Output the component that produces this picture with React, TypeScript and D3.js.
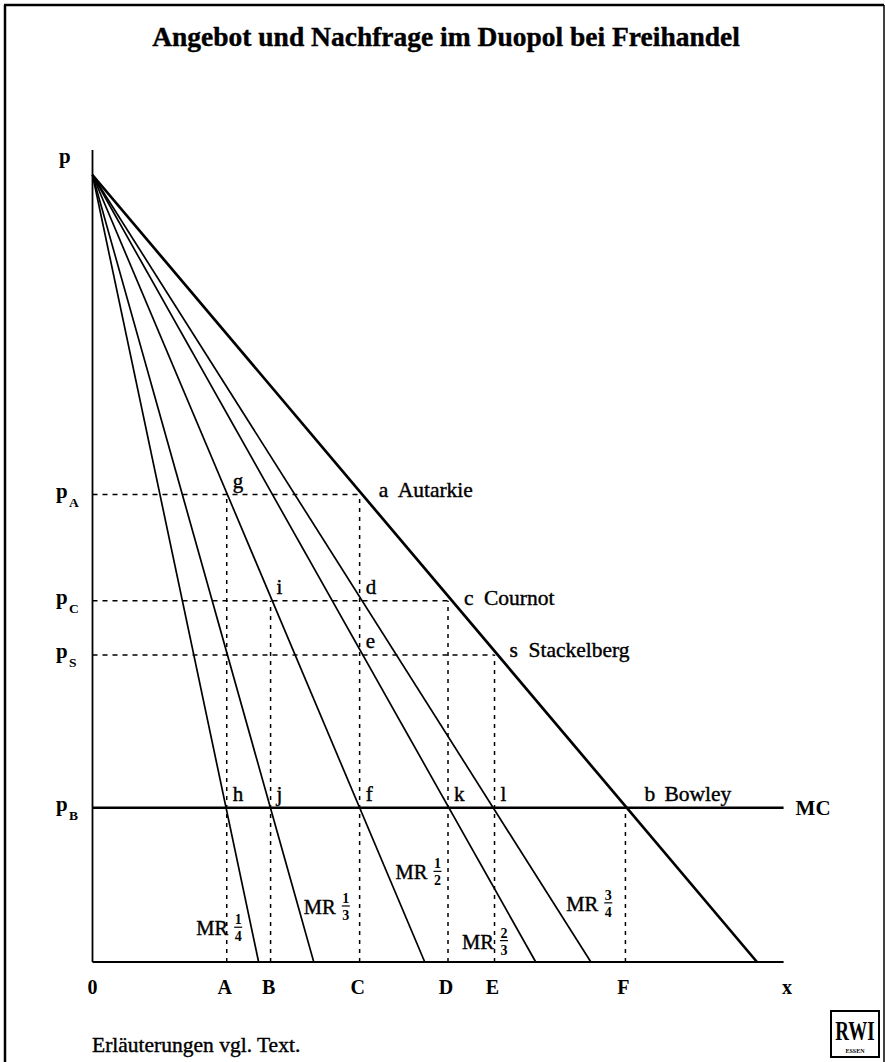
import React from 'react';
import * as d3 from 'd3';

// quantities (share of the demand intercept) and prices (share of the price intercept)
const quantityNames = ['A', 'B', 'C', 'D', 'E', 'F'];
const quantityValues = [0.202, 0.268, 0.402, 0.535, 0.605, 0.802];

const priceNames = ['A', 'C', 'S', 'B'];
const priceValues = [0.594, 0.459, 0.39, 0.196];

// marginal revenue lines: x-intercept as share of the demand intercept
const mrShares = [0.25, 0.333, 0.5, 0.667, 0.75];
const mrNumerators = ['1', '1', '1', '2', '3'];
const mrDenominators = ['4', '3', '2', '3', '4'];
// where each MR label sits (quantity, price)
const mrLabelQ = [0.156, 0.318, 0.456, 0.556, 0.713];
const mrLabelP = [0.034, 0.061, 0.105, 0.017, 0.065];

const mcEnd = 1.04;

// dashed guides: horizontal ones run out to a quantity, vertical ones up to a price
const hGuides = [
  { p: 'A', q: 'C' },
  { p: 'C', q: 'D' },
  { p: 'S', q: 'E' },
];
const vGuides = [
  { q: 'A', p: 'A' },
  { q: 'B', p: 'C' },
  { q: 'C', p: 'A' },
  { q: 'D', p: 'C' },
  { q: 'E', p: 'S' },
  { q: 'F', p: 'B' },
];

const smallPoints = [
  { t: 'g', q: 'A', p: 'A' },
  { t: 'i', q: 'B', p: 'C' },
  { t: 'd', q: 'C', p: 'C' },
  { t: 'e', q: 'C', p: 'S' },
  { t: 'h', q: 'A', p: 'B' },
  { t: 'j', q: 'B', p: 'B' },
  { t: 'f', q: 'C', p: 'B' },
  { t: 'k', q: 'D', p: 'B' },
  { t: 'l', q: 'E', p: 'B' },
];

const namedPoints = [
  { t: 'a', word: 'Autarkie', q: 'C', p: 'A', dx: 19, wx: 38, dy: 2 },
  { t: 'c', word: 'Cournot', q: 'D', p: 'C', dx: 16, wx: 36, dy: 4 },
  { t: 's', word: 'Stackelberg', q: 'E', p: 'S', dx: 15, wx: 34, dy: 2 },
  { t: 'b', word: 'Bowley', q: 'F', p: 'B', dx: 19, wx: 39, dy: -7 },
];

const W = 885;
const H = 1062;
const FONT = '"Liberation Serif", "Times New Roman", serif';
const ink = { stroke: '#000', strokeWidth: 0.4 };

export default function App() {
  const x = d3.scaleLinear().domain([0, 1]).range([92.5, 757]);
  const y = d3.scaleLinear().domain([0, 1]).range([962, 175]);

  const qx = (n: string) => x(quantityValues[quantityNames.indexOf(n)]);
  const py = (n: string) => y(priceValues[priceNames.indexOf(n)]);

  const line = d3
    .line<[number, number]>()
    .x((d) => x(d[0]))
    .y((d) => y(d[1]));

  return (
    <svg
      width={W}
      height={H}
      style={{ position: 'absolute', left: 0, top: 0, background: '#fff' }}
      fontFamily={FONT}
    >
      {/* frame */}
      <line x1={5} y1={5} x2={5} y2={H} stroke="#000" strokeWidth={2.5} />
      <line x1={4} y1={5} x2={884} y2={5} stroke="#000" strokeWidth={2.5} />
      <line x1={884} y1={5} x2={884} y2={H} stroke="#000" strokeWidth={1.5} />

      <text x={446} y={46} textAnchor="middle" fontSize={27.5} fontWeight="bold" {...ink}>
        Angebot und Nachfrage im Duopol bei Freihandel
      </text>

      {/* axes */}
      <line x1={x(0)} y1={150} x2={x(0)} y2={y(0)} stroke="#000" strokeWidth={1.8} />
      <line x1={x(0)} y1={y(0)} x2={x(1.04)} y2={y(0)} stroke="#000" strokeWidth={1.8} />

      {/* dashed guides */}
      {hGuides.map((g, i) => (
        <line
          key={'h' + i}
          x1={x(0)}
          y1={py(g.p)}
          x2={qx(g.q)}
          y2={py(g.p)}
          stroke="#000"
          strokeWidth={1.5}
          strokeDasharray="5,5"
        />
      ))}
      {vGuides.map((g, i) => (
        <line
          key={'v' + i}
          x1={qx(g.q)}
          y1={y(0)}
          x2={qx(g.q)}
          y2={py(g.p)}
          stroke="#000"
          strokeWidth={1.5}
          strokeDasharray="4,5"
        />
      ))}

      {/* MR lines */}
      {mrShares.map((s, i) => (
        <path
          key={'mr' + i}
          d={line([
            [0, 1],
            [s, 0],
          ]) as string}
          fill="none"
          stroke="#000"
          strokeWidth={1.7}
        />
      ))}

      {/* demand */}
      <path
        d={line([
          [0, 1],
          [1, 0],
        ]) as string}
        fill="none"
        stroke="#000"
        strokeWidth={2.7}
      />

      {/* MC */}
      <line
        x1={x(0)}
        y1={py('B')}
        x2={x(mcEnd)}
        y2={py('B')}
        stroke="#000"
        strokeWidth={2.7}
      />
      <text x={x(mcEnd) + 12} y={py('B') + 7} fontSize={21} fontWeight="bold">
        MC
      </text>

      {/* price labels */}
      <text x={59} y={163} fontSize={21} fontWeight="bold">
        p
      </text>
      {priceNames.map((n) => (
        <g key={'p' + n}>
          <text x={56} y={py(n) + 3} fontSize={21} fontWeight="bold">
            p
          </text>
          <text x={69} y={py(n) + 12} fontSize={13.5} fontWeight="bold">
            {n}
          </text>
        </g>
      ))}

      {/* quantity labels */}
      <text x={x(0)} y={994} fontSize={20} fontWeight="bold" textAnchor="middle">
        0
      </text>
      {quantityNames.map((n) => (
        <text key={'q' + n} x={qx(n) - 2} y={994} fontSize={20} fontWeight="bold" textAnchor="middle">
          {n}
        </text>
      ))}
      <text x={787} y={994} fontSize={20} fontWeight="bold" textAnchor="middle">
        x
      </text>

      {/* point labels */}
      {smallPoints.map((d) => (
        <text key={'sp' + d.t} x={qx(d.q) + 6} y={py(d.p) - 7} fontSize={21} {...ink}>
          {d.t}
        </text>
      ))}
      {namedPoints.map((d) => (
        <g key={'np' + d.t}>
          <text x={qx(d.q) + d.dx} y={py(d.p) + d.dy} fontSize={21.5} {...ink}>
            {d.t}
          </text>
          <text x={qx(d.q) + d.wx} y={py(d.p) + d.dy} fontSize={21.5} {...ink}>
            {d.word}
          </text>
        </g>
      ))}

      {/* MR labels */}
      {mrShares.map((_, i) => {
        const lx = x(mrLabelQ[i]);
        const ly = y(mrLabelP[i]);
        const fx = lx + 42;
        return (
          <g key={'mrl' + i}>
            <text x={lx} y={ly} fontSize={20.5} {...ink}>
              MR
            </text>
            <text x={fx} y={ly - 11} fontSize={14} fontWeight="bold" textAnchor="middle">
              {mrNumerators[i]}
            </text>
            <line x1={fx - 4} y1={ly - 8} x2={fx + 4} y2={ly - 8} stroke="#000" strokeWidth={1.2} />
            <text x={fx} y={ly + 6} fontSize={14} fontWeight="bold" textAnchor="middle">
              {mrDenominators[i]}
            </text>
          </g>
        );
      })}

      <text x={92} y={1052} fontSize={21.5} {...ink}>
        Erläuterungen vgl. Text.
      </text>

      {/* RWI logo */}
      <rect x={831} y={1011} width={48} height={46} fill="none" stroke="#000" strokeWidth={2} />
      <g transform="translate(855,1040) scale(1,1.45)">
        <text x={0} y={0} fontSize={19} fontWeight="bold" textAnchor="middle">
          RWI
        </text>
      </g>
      <text x={855} y={1053} fontSize={6} fontWeight="bold" textAnchor="middle">
        ESSEN
      </text>
    </svg>
  );
}
